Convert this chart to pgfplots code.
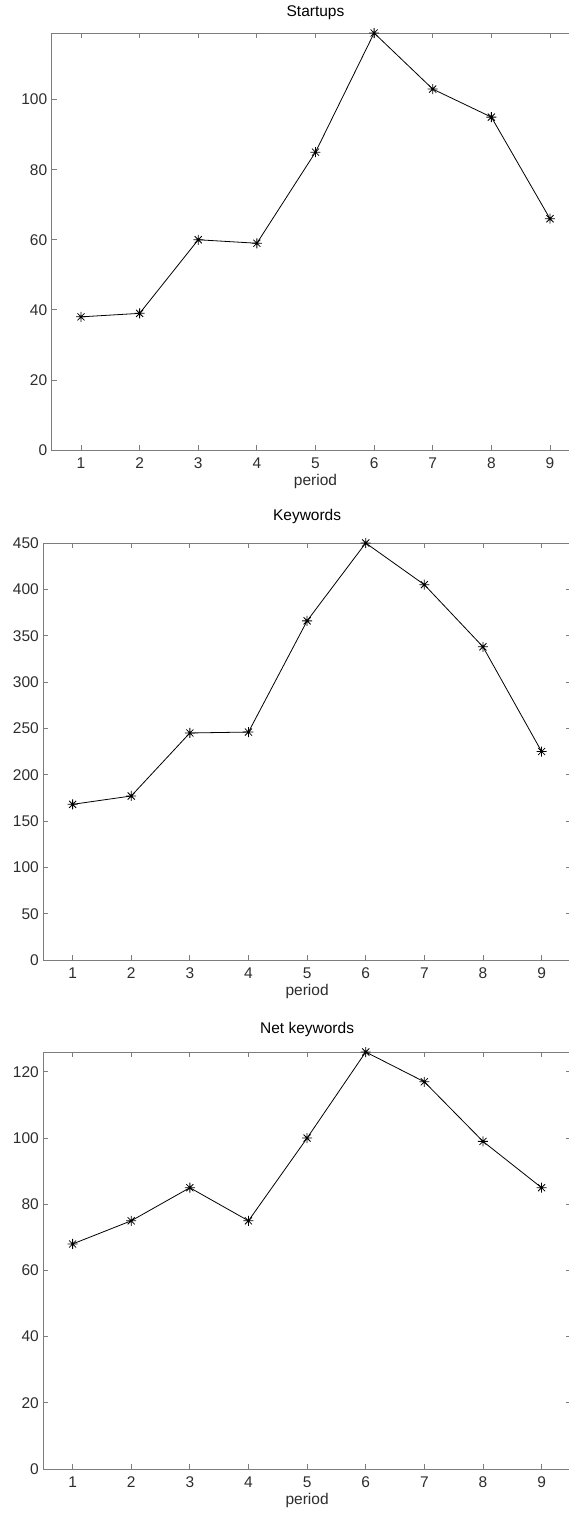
\documentclass[border=0pt]{standalone}
\usepackage{fontspec}
\setmainfont{Liberation Sans}
\usepackage{pgfplots}
\pgfplotsset{compat=1.18}
\definecolor{axgray}{RGB}{125,125,125}
\definecolor{txtgray}{RGB}{45,45,45}
\pgfdeclareplotmark{mstar}{%
 \pgfpathmoveto{\pgfpoint{-\pgfplotmarksize}{0pt}}\pgfpathlineto{\pgfpoint{\pgfplotmarksize}{0pt}}%
 \pgfpathmoveto{\pgfpoint{0pt}{-\pgfplotmarksize}}\pgfpathlineto{\pgfpoint{0pt}{\pgfplotmarksize}}%
 \pgfpathmoveto{\pgfpoint{-0.707\pgfplotmarksize}{-0.707\pgfplotmarksize}}\pgfpathlineto{\pgfpoint{0.707\pgfplotmarksize}{0.707\pgfplotmarksize}}%
 \pgfpathmoveto{\pgfpoint{-0.707\pgfplotmarksize}{0.707\pgfplotmarksize}}\pgfpathlineto{\pgfpoint{0.707\pgfplotmarksize}{-0.707\pgfplotmarksize}}%
 \pgfusepathqstroke}
\pgfplotsset{
  mystyle/.style={
    scale only axis, width=527.6pt, height=417pt,
    xmin=0.5, xmax=9.5, ymin=0, xtick={1,...,9},
    tick align=inside, major tick length=5pt,
    axis line style={axgray, line width=1pt},
    tick style={axgray, line width=0.8pt},
    every tick label/.append style={font=\fontsize{15.5}{18}\selectfont, text=txtgray},
    /pgf/number format/assume math mode=true,
    scaled y ticks=false,
    xticklabel style={yshift=-4pt},
    yticklabel style={xshift=-1pt},
    xlabel={period},
    xlabel style={at={(0.5,0)}, anchor=center, yshift=-31pt, font=\fontsize{15.5}{18}\selectfont, text=txtgray},
    title style={at={(0.5,1)}, anchor=center, font=\fontsize{15.5}{18}\selectfont, text=black},
  },
  myline/.style={black, line width=0.8pt, mark=mstar, mark size=5pt, mark options={solid, line width=0.8pt}},
}
\begin{document}
\begin{tikzpicture}
\useasboundingbox (0pt,0pt) rectangle (569pt,-1519pt);
\clip (0pt,0pt) rectangle (569pt,-1519pt);
\begin{axis}[mystyle, at={(51.7pt,-450pt)}, anchor=south west,
  title={Startups}, title style={yshift=14pt}, ymax=119, ytick={0,20,...,100}]
\addplot[myline] coordinates {(1,38) (2,39) (3,60) (4,59) (5,85) (6,119) (7,103) (8,95) (9,66)};
\end{axis}
\begin{axis}[mystyle, at={(43.3pt,-960pt)}, anchor=south west,
  title={Keywords}, title style={yshift=21pt}, ymax=450, ytick={0,50,...,450}]
\addplot[myline] coordinates {(1,168) (2,177) (3,245) (4,246) (5,366) (6,450) (7,405) (8,338) (9,225)};
\end{axis}
\begin{axis}[mystyle, at={(43.3pt,-1469pt)}, anchor=south west,
  title={Net keywords}, title style={yshift=17pt}, ymax=126, ytick={0,20,...,120}]
\addplot[myline] coordinates {(1,68) (2,75) (3,85) (4,75) (5,100) (6,126) (7,117) (8,99) (9,85)};
\end{axis}
\end{tikzpicture}
\end{document}
